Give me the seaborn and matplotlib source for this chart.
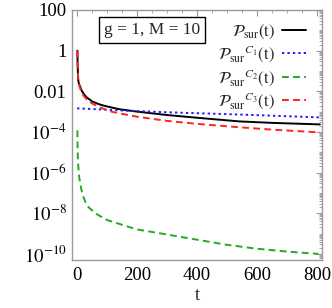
import numpy as np
import pandas as pd
import matplotlib
matplotlib.use("Agg")
import matplotlib.pyplot as plt
import matplotlib.ticker as mticker
import seaborn as sns

# ---- data ----
t_tot = [1, 2, 3, 4, 6, 8, 11, 15, 22, 32, 50, 70, 87, 115, 143, 200, 300, 400, 541, 650, 810]
p_tot = [1.0, 0.16, 0.06, 0.034, 0.024, 0.02, 0.016, 0.011, 0.0075, 0.005, 0.0032, 0.0024, 0.002,
         0.0016, 0.0013, 0.001, 6.8e-4, 5.0e-4, 3.3e-4, 2.8e-4, 2.35e-4]

t_c1 = [0, 143, 300, 541, 810]
p_c1 = [1.45e-3, 1.15e-3, 9.3e-4, 7.2e-4, 5.2e-4]

t_c2 = [1, 1.5, 2, 3, 5, 7, 10, 15, 21, 30, 38, 60, 99, 165, 200, 300, 400, 500, 600, 700, 805]
p_c2 = [1.2e-4, 2.5e-5, 9e-6, 3.5e-6, 1.3e-6, 6e-7, 3.2e-7, 1.3e-7, 6.3e-8, 3e-8, 2e-8,
        1e-8, 4.7e-9, 2.3e-9, 1.6e-9, 9e-10, 5e-10, 2.8e-10, 1.8e-10, 1.3e-10, 1.0e-10]

t_c3 = [1, 2, 3, 4, 6, 8, 11, 15, 22, 32, 50, 70, 87, 115, 143, 200, 300, 400, 541, 650, 810]
p_c3 = [1.0, 0.16, 0.06, 0.032, 0.022, 0.017, 0.013, 0.0089, 0.006, 0.004, 0.0025, 0.0018, 0.0014,
        0.001, 8.1e-4, 5.6e-4, 3.5e-4, 2.5e-4, 1.7e-4, 1.3e-4, 9.5e-5]

labels = [r'$\mathcal{P}_{\mathrm{sur}}(\mathrm{t})$',
          r'$\mathcal{P}_{\mathrm{sur}}{}^{C_1}(\mathrm{t})$',
          r'$\mathcal{P}_{\mathrm{sur}}{}^{C_2}(\mathrm{t})$',
          r'$\mathcal{P}_{\mathrm{sur}}{}^{C_3}(\mathrm{t})$']

ytick_vals = [100, 1, 1e-2, 1e-4, 1e-6, 1e-8, 1e-10]
ytick_labels = ['100', '1', '0.01', r'$10^{-4}$', r'$10^{-6}$', r'$10^{-8}$', r'$10^{-10}$']
xtick_vals = [0, 200, 400, 600, 800]
annotation = 'g = 1, M = 10'

# ---- style ----
sns.set_theme(style='white')
plt.rcParams['font.family'] = ['Liberation Serif', 'DejaVu Serif']
plt.rcParams['mathtext.fontset'] = 'stix'

fig = plt.figure(figsize=(3.32, 3.08), dpi=100)
ax = fig.add_axes([72/332, 48/308, 250/332, 250/308])

series = [(t_tot, p_tot), (t_c1, p_c1), (t_c2, p_c2), (t_c3, p_c3)]
colors = ['black', '#1a1aff', '#22aa22', '#ff2222']
dashes = [(None, None), (1.2, 1.6), (3.5, 2.2), (3.5, 2.2)]
for (tt, pp), lab, c, d in zip(series, labels, colors, dashes):
    df = pd.DataFrame({'t': tt, 'P': pp})
    line_ax = sns.lineplot(data=df, x='t', y='P', ax=ax, color=c, lw=1.4, label=lab)
    ln = line_ax.get_lines()[-1]
    if d[0] is not None:
        ln.set_dashes(d)

ax.set_yscale('log')
ax.set_ylim(10**-10.3, 100)
ax.set_xlim(-17, 817)

ax.set_yticks(ytick_vals)
ax.set_yticklabels(ytick_labels)
ax.yaxis.set_minor_locator(mticker.LogLocator(base=10, subs=np.arange(1, 10), numticks=100))
ax.yaxis.set_minor_formatter(mticker.NullFormatter())
ax.set_xticks(xtick_vals)
ax.xaxis.set_minor_locator(mticker.MultipleLocator(50))

gray = '#9a9a9a'
for sp in ax.spines.values():
    sp.set_color(gray)
    sp.set_linewidth(1.0)
ax.tick_params(which='both', direction='in', top=True, right=True, color=gray,
               labelsize=13.5, labelcolor='black')
ax.tick_params(which='major', length=4, width=0.8)
ax.tick_params(which='minor', length=2, width=0.6)
ax.tick_params(axis='x', pad=5)
ax.tick_params(axis='y', pad=4)

ax.set_xlabel('t', fontsize=13.5, labelpad=2)
ax.set_ylabel('')

ax.text(0.32, 0.92, annotation, transform=ax.transAxes, ha='center', va='center',
        fontsize=12.5,
        bbox=dict(boxstyle='square,pad=0.3', fc='white', ec='black', lw=1.0))

leg = ax.legend(loc='upper right', bbox_to_anchor=(0.985, 1.0), frameon=False,
                markerfirst=False, fontsize=12, handlelength=1.45, handletextpad=0.4,
                labelspacing=0.15, borderaxespad=0.35)

fig.savefig('out.png', dpi=100)
